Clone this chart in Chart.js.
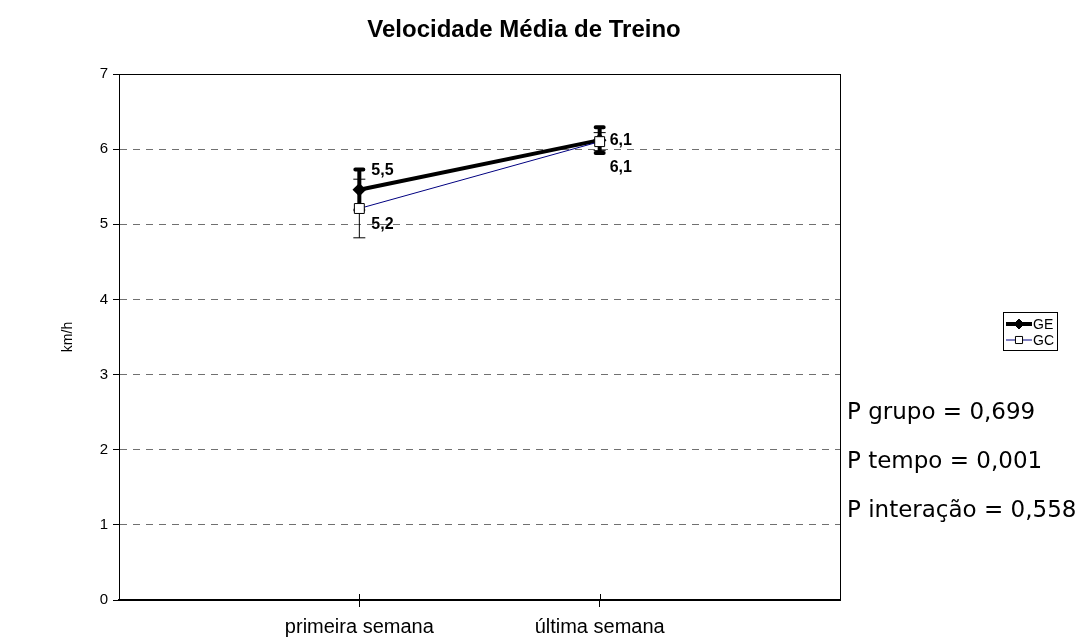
<!DOCTYPE html>
<html>
<head>
<meta charset="utf-8">
<script src="https://cdn.jsdelivr.net/npm/chart.js@4.4.1/dist/chart.umd.min.js"></script>
<style>
  html, body { margin: 0; padding: 0; background: #fff; }
  #wrap { width: 1089px; height: 642px; }
</style>
</head>
<body>
<div id="wrap"><canvas id="chart" width="1089" height="642"></canvas></div>
<script>
// values
const weeks = ["primeira semana", "última semana"];
const geMeans = [5.46, 6.12];
const geErrors = [0.27, 0.17];
const gcMeans = [5.21, 6.10];
const gcErrors = [0.39, 0.12];
const yTicks = [0, 1, 2, 3, 4, 5, 6, 7];
const pValues = ["P grupo = 0,699", "P tempo = 0,001", "P interação = 0,558"];

const toPoints = means => means.map((v, i) => ({ x: i + 1, y: v }));
const fmt = v => v.toFixed(1).replace(".", ",");

// where the value labels sit relative to their point
const labelOffsets = { GE: [[12, -19], [10, 0]], GC: [[12, 16], [10, 26]] };

const errorBars = {
  id: "errorBars",
  beforeDatasetsDraw(chart) {
    const { ctx, scales: { x, y } } = chart;
    chart.data.datasets.forEach(ds => {
      ds.errors.forEach((e, i) => {
        const p = ds.data[i];
        const px = x.getPixelForValue(p.x);
        const top = y.getPixelForValue(p.y + e);
        const bot = y.getPixelForValue(p.y - e);
        ctx.save();
        ctx.strokeStyle = "#000";
        ctx.lineWidth = ds.errWidth;
        ctx.lineCap = ds.errWidth > 2 ? "round" : "butt";
        ctx.beginPath();
        ctx.moveTo(px, top); ctx.lineTo(px, bot);
        ctx.moveTo(px - ds.capHalf, top); ctx.lineTo(px + ds.capHalf, top);
        ctx.moveTo(px - ds.capHalf, bot); ctx.lineTo(px + ds.capHalf, bot);
        ctx.stroke();
        ctx.restore();
      });
    });
  },
  afterDatasetsDraw(chart) {
    const { ctx, scales: { x, y } } = chart;
    ctx.save();
    ctx.font = "bold 16px 'Liberation Sans', Arial, sans-serif";
    ctx.fillStyle = "#000";
    ctx.textBaseline = "middle";
    chart.data.datasets.forEach(ds => {
      ds.data.forEach((p, i) => {
        const off = labelOffsets[ds.label][i];
        ctx.fillText(fmt(p.y), x.getPixelForValue(p.x) + off[0], y.getPixelForValue(p.y) + off[1]);
      });
    });
    ctx.restore();
  }
};

const frame = {
  id: "frame",
  afterDraw(chart) {
    const { ctx, chartArea: a, scales: { x } } = chart;
    ctx.save();
    // box round the plot
    ctx.strokeStyle = "#000";
    ctx.lineWidth = 1;
    ctx.strokeRect(a.left + 0.5, a.top + 0.5, a.right - a.left, a.bottom - a.top);

    // category ticks cross the axis
    x.ticks.forEach(t => {
      const px = Math.round(x.getPixelForValue(t.value)) + 0.5;
      ctx.beginPath();
      ctx.moveTo(px, a.bottom - 6); ctx.lineTo(px, a.bottom);
      ctx.stroke();
    });

    // title
    ctx.fillStyle = "#000";
    ctx.textAlign = "center";
    ctx.textBaseline = "middle";
    ctx.font = "bold 24px 'Liberation Sans', Arial, sans-serif";
    ctx.fillText("Velocidade Média de Treino", 524, 30);

    // legend
    const lx = 1003, ly = 312, lw = 54, lh = 38;
    ctx.strokeRect(lx + 0.5, ly + 0.5, lw, lh);
    ctx.textAlign = "left";
    ctx.font = "14px 'Liberation Sans', Arial, sans-serif";
    chart.data.datasets.forEach((ds, i) => {
      const ry = ly + 12 + i * 16;
      ctx.strokeStyle = ds.borderColor;
      ctx.lineWidth = ds.borderWidth;
      ctx.beginPath();
      ctx.moveTo(lx + 3, ry); ctx.lineTo(lx + 29, ry);
      ctx.stroke();
      ctx.fillStyle = ds.pointBackgroundColor;
      ctx.strokeStyle = "#000";
      ctx.lineWidth = 1;
      Chart.helpers.drawPoint(ctx, {
        pointStyle: ds.pointStyle, radius: 5, rotation: 0, borderWidth: 1
      }, lx + 16, ry);
      ctx.fillStyle = "#000";
      ctx.fillText(ds.label, lx + 30, ry + 1);
    });

    // p values
    ctx.font = "23px 'DejaVu Sans', sans-serif";
    pValues.forEach((t, i) => ctx.fillText(t, 847, 413 + i * 49));
    ctx.restore();
  }
};

new Chart(document.getElementById("chart"), {
  type: "line",
  data: {
    datasets: [
      {
        label: "GE",
        data: toPoints(geMeans),
        errors: geErrors,
        errWidth: 4,
        capHalf: 4,
        borderColor: "#000",
        borderWidth: 4,
        pointStyle: "rectRot",
        pointRadius: 4,
        pointBackgroundColor: "#000",
        pointBorderColor: "#000",
        order: 2
      },
      {
        label: "GC",
        data: toPoints(gcMeans),
        errors: gcErrors,
        errWidth: 1,
        capHalf: 6,
        borderColor: "#000080",
        borderWidth: 1,
        pointStyle: "rect",
        pointRadius: 7,
        pointBackgroundColor: "#fff",
        pointBorderColor: "#000",
        pointBorderWidth: 1,
        order: 1
      }
    ]
  },
  options: {
    responsive: false,
    animation: false,
    layout: { padding: { top: 74, right: 249, bottom: 0, left: 0 } },
    plugins: {
      legend: { display: false },
      title: { display: false },
      tooltip: { enabled: false }
    },
    scales: {
      x: {
        type: "linear",
        min: 0,
        max: weeks.length + 1,
        afterBuildTicks: s => { s.ticks = weeks.map((w, i) => ({ value: i + 1 })); },
        afterFit: s => { s.height = 42; },
        ticks: {
          callback: v => weeks[v - 1],
          color: "#000",
          padding: 8,
          font: { family: "'Liberation Sans', Arial, sans-serif", size: 20 }
        },
        grid: { drawOnChartArea: false, tickLength: 7, color: "#000" },
        border: { color: "#000", width: 2 }
      },
      y: {
        min: 0,
        max: 7,
        afterBuildTicks: s => { s.ticks = yTicks.map(v => ({ value: v })); },
        afterFit: s => { s.width = 119; },
        ticks: {
          color: "#000",
          padding: 5,
          font: { family: "'Liberation Sans', Arial, sans-serif", size: 15 }
        },
        title: {
          display: true,
          text: "km/h",
          color: "#000",
          padding: { top: 60, bottom: 0 },
          font: { family: "'Liberation Sans', Arial, sans-serif", size: 14 }
        },
        grid: { color: "#707070", tickColor: "#000", tickLength: 6 },
        border: { color: "#000", width: 1, dash: [7, 6] }
      }
    }
  },
  plugins: [errorBars, frame]
});
</script>
</body>
</html>
